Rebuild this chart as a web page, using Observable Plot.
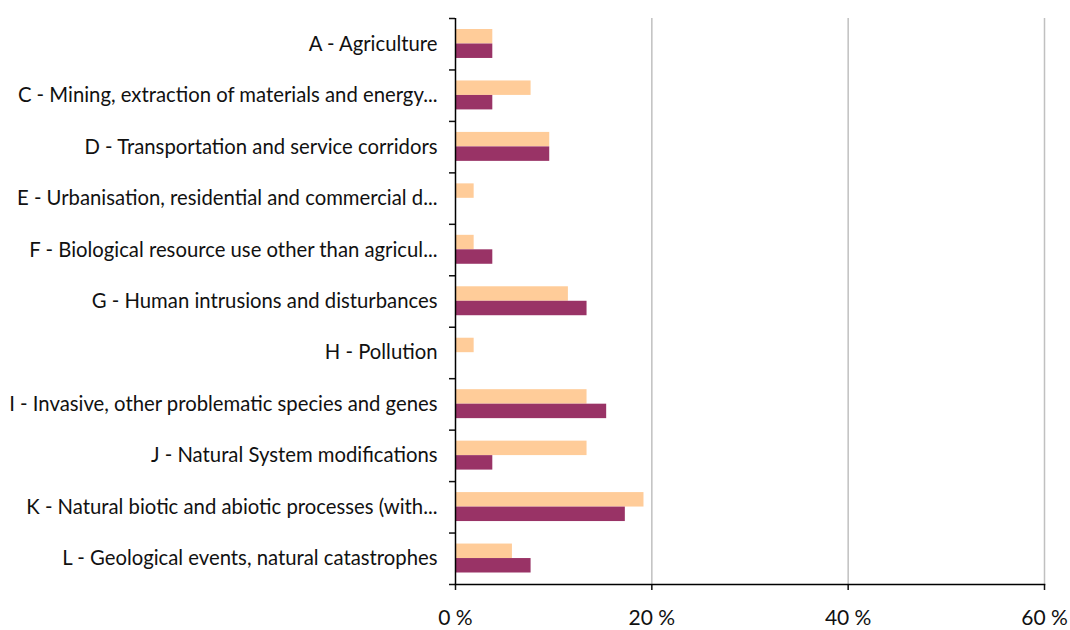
<!DOCTYPE html>
<html><head><meta charset="utf-8">
<script src="https://cdn.jsdelivr.net/npm/d3@7"></script>
<script src="https://cdn.jsdelivr.net/npm/@observablehq/plot@0.6"></script>
<style>
body{margin:0;background:#fff;}
#chart svg{font-family:Lato, "Open Sans", sans-serif;}
</style>
</head><body><div id="chart"></div>
<script>
const categories = [
  "A - Agriculture",
  "C - Mining, extraction of materials and energy...",
  "D - Transportation and service corridors",
  "E - Urbanisation, residential and commercial d...",
  "F - Biological resource use other than agricul...",
  "G - Human intrusions and disturbances",
  "H - Pollution",
  "I - Invasive, other problematic species and genes",
  "J - Natural System modifications",
  "K - Natural biotic and abiotic processes (with...",
  "L - Geological events, natural catastrophes"
];
const seriesLight = [3.8, 7.7, 9.6, 1.9, 1.9, 11.5, 1.9, 13.4, 13.4, 19.2, 5.8];
const seriesDark  = [3.8, 3.8, 9.6, 0.0, 3.8, 13.4, 0.0, 15.4, 3.8, 17.3, 7.7];
const xTicks = [0, 20, 40, 60];
const colorLight = "#FFCC99";
const colorDark = "#993366";

const light = categories.map((c, i) => ({category: c, value: seriesLight[i]}));
const dark = categories.map((c, i) => ({category: c, value: seriesDark[i]}));

const W = 1070, H = 630, mt = 18, mb = 46;
const step = (H - mt - mb) / categories.length;

const chart = Plot.plot({
  width: W,
  height: H,
  marginLeft: 455,
  marginRight: 26,
  marginTop: mt,
  marginBottom: mb,
  style: {fontSize: "20.3px", color: "#111", background: "#fff"},
  x: {domain: [0, 60], label: null},
  y: {domain: categories, padding: 0, round: false, label: null},
  marks: [
    Plot.gridX({ticks: [20, 40, 60], stroke: "#c0c0c0", strokeOpacity: 1, strokeWidth: 1.5}),
    Plot.barX(light, {x: "value", y: "category", fill: colorLight, insetTop: 11, insetBottom: 26}),
    Plot.barX(dark, {x: "value", y: "category", fill: colorDark, insetTop: 25.5, insetBottom: 11.5}),
    Plot.axisY({tickSize: 0, tickPadding: 18, label: null}),
    Plot.axisY({tickSize: 6, tickFormat: () => "", label: null, dy: -step / 2, strokeWidth: 1.5}),
    Plot.axisY({ticks: [categories[categories.length - 1]], tickSize: 6, tickFormat: () => "", label: null, dy: step / 2, strokeWidth: 1.5}),
    Plot.axisX({ticks: xTicks, tickSize: 6, tickPadding: 20, tickFormat: d => d + " %", label: null, fontSize: 21, strokeWidth: 1.5}),
    Plot.ruleX([0], {stroke: "#000", strokeWidth: 1.5}),
    Plot.frame({anchor: "bottom", stroke: "#000", strokeWidth: 1.5})
  ]
});
document.getElementById("chart").append(chart);
</script>
</body></html>
